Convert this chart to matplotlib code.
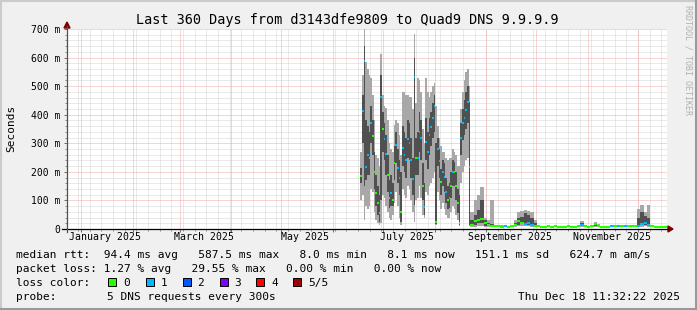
import numpy as np
import matplotlib
matplotlib.use('Agg')
import matplotlib.pyplot as plt
from matplotlib.patches import Rectangle, Polygon
from matplotlib.lines import Line2D
import datetime as dt

# ---------------- data ----------------
START = dt.datetime(2024, 12, 23, 11, 32, 22)
END = dt.datetime(2025, 12, 18, 11, 32, 22)
SPAN = 360.0

# day offsets (days since START), median rtt (ms), loss count, smoke percentiles (ms)
day = [176, 177, 178, 179, 180, 181, 182, 183, 184, 185, 186, 187, 188, 189, 190,
       191, 192, 193, 194, 195, 196, 197, 198, 199, 200, 201, 202, 203, 204, 205,
       206, 207, 208, 209, 210, 211, 212, 213, 214, 215, 216, 217, 218, 219, 220,
       221, 222, 223, 224, 225, 226, 227, 228, 229, 230, 231, 232, 233, 234, 235,
       236, 237, 238, 239, 240, 241,
       242, 244, 246, 248, 250, 252, 254, 256, 258, 260, 262, 264, 266, 268, 270,
       272, 274, 276, 278, 280, 282, 284, 286, 288, 290, 292, 294, 296, 298, 300,
       302, 304, 306, 308, 310, 312, 314, 316, 318, 320, 322, 324, 326, 328, 330,
       332, 334, 336, 338, 340, 342, 344, 346, 348, 350, 352, 354, 356, 358]
median = [185, 413, 588, 217, 259, 250, 371, 325, 200, 126, 90, 56, 462, 350, 315,
          262, 189, 108, 126, 101, 231, 294, 214, 180, 60, 283, 260, 241, 315, 300,
          240, 175, 532, 248, 248, 340, 318, 150, 77, 306, 270, 329, 357, 390, 430,
          24, 280, 238, 164, 200, 182, 130, 101, 110, 150, 200, 200, 150, 91, 21,
          318, 371, 390, 416, 445, 217,
          14, 28, 30, 35, 20, 14, 12, 10, 9, 8, 9, 8, 9, 14, 28,
          22, 18, 20, 14, 10, 9, 8, 8, 9, 8, 9, 8, 8, 8, 9,
          8, 8, 9, 14, 9, 8, 9, 18, 12, 8, 8, 8, 9, 9, 10,
          9, 10, 9, 9, 10, 12, 18, 20, 14, 9, 8, 8, 8, 8]
loss = [0, 1, 1, 1, 1, 0, 1, 0, 0, 0, 0, 0, 1, 0, 1,
        1, 0, 0, 1, 0, 0, 1, 1, 1, 0, 1, 1, 1, 1, 1,
        1, 1, 1, 0, 1, 1, 1, 0, 1, 1, 1, 1, 1, 1, 1,
        0, 1, 1, 0, 1, 1, 1, 0, 1, 0, 1, 0, 0, 0, 0,
        1, 1, 1, 1, 1, 1,
        0, 0, 0, 0, 0, 0, 0, 0, 0, 0, 1, 0, 0, 0, 0,
        0, 1, 1, 1, 0, 0, 0, 0, 0, 0, 0, 0, 0, 0, 0,
        0, 0, 0, 1, 0, 0, 0, 0, 0, 0, 0, 0, 1, 0, 1,
        0, 1, 0, 0, 0, 1, 1, 1, 1, 0, 0, 0, 0, 0]
ping_lo = [100, 120, 30, 80, 70, 80, 140, 130, 60, 30, 20, 14, 20, 120, 110,
           80, 60, 40, 30, 50, 90, 130, 80, 40, 14, 140, 120, 110, 150, 140,
           100, 60, 24, 100, 110, 150, 110, 50, 38, 130, 120, 150, 160, 180, 200,
           14, 130, 100, 70, 90, 70, 50, 40, 40, 60, 80, 70, 50, 30, 10,
           160, 200, 220, 240, 250, 10,
           6, 8, 10, 10, 8, 8, 8, 7, 7, 7, 7, 7, 7, 8, 10,
           10, 10, 10, 8, 8, 7, 7, 7, 7, 7, 7, 7, 7, 7, 7,
           7, 7, 7, 8, 7, 7, 7, 8, 8, 7, 7, 7, 7, 7, 7,
           7, 7, 7, 7, 7, 8, 8, 9, 8, 7, 7, 7, 7, 7]
ping_q1 = [160, 300, 150, 170, 190, 190, 300, 260, 140, 80, 50, 25, 100, 270, 240,
           190, 130, 75, 80, 80, 170, 230, 160, 120, 25, 220, 200, 180, 250, 240,
           180, 120, 84, 190, 190, 270, 240, 100, 50, 240, 210, 260, 290, 320, 340,
           18, 220, 180, 120, 150, 130, 90, 70, 75, 110, 150, 150, 100, 55, 14,
           260, 310, 330, 350, 370, 14,
           10, 15, 20, 20, 12, 10, 10, 9, 8, 8, 8, 8, 8, 10, 15,
           18, 15, 15, 12, 9, 8, 8, 8, 8, 8, 8, 8, 8, 8, 8,
           8, 8, 8, 10, 8, 8, 8, 12, 10, 8, 8, 8, 8, 8, 8,
           8, 8, 8, 8, 8, 10, 14, 14, 10, 8, 8, 8, 8, 8]
ping_q3 = [215, 470, 640, 380, 360, 340, 430, 380, 270, 190, 150, 120, 540, 410, 370,
           330, 260, 170, 190, 160, 290, 340, 280, 240, 200, 360, 340, 320, 380, 370,
           320, 250, 600, 320, 340, 410, 380, 230, 160, 390, 340, 390, 410, 440, 470,
           300, 320, 280, 210, 240, 230, 180, 150, 160, 200, 240, 235, 200, 140, 120,
           370, 420, 450, 480, 500, 445,
           30, 50, 66, 101, 30, 20, 16, 12, 11, 10, 11, 10, 11, 20, 40,
           42, 55, 50, 40, 20, 11, 10, 10, 11, 10, 11, 10, 10, 10, 11,
           10, 10, 11, 22, 11, 10, 11, 22, 15, 10, 10, 10, 11, 11, 12,
           11, 12, 11, 11, 12, 40, 58, 45, 40, 11, 10, 10, 10, 10]
ping_hi = [270, 540, 700, 584, 560, 540, 528, 470, 380, 260, 250, 220, 612, 469, 430,
           423, 380, 300, 280, 270, 364, 380, 370, 330, 260, 479, 480, 470, 470, 462,
           462, 420, 683, 440, 528, 520, 480, 350, 300, 528, 480, 462, 480, 500, 511,
           430, 360, 318, 290, 270, 270, 250, 240, 249, 249, 280, 270, 260, 220, 220,
           420, 480, 520, 550, 560, 500,
           60, 100, 119, 147, 40, 30, 101, 15, 14, 13, 14, 12, 13, 30, 60,
           62, 66, 64, 60, 30, 13, 12, 12, 13, 12, 13, 12, 12, 12, 13,
           12, 12, 13, 28, 13, 12, 13, 25, 18, 12, 12, 12, 13, 13, 14,
           13, 14, 13, 13, 14, 70, 84, 60, 84, 13, 12, 12, 12, 12]

loss_colors = ['#26ff00', '#00b8ff', '#0059ff', '#7e00ff', '#ff0000', '#a10000']
loss_labels = ['0', '1', '2', '3', '4', '5/5']

title = 'Last 360 Days from d3143dfe9809 to Quad9 DNS 9.9.9.9'
ylabel = 'Seconds'
ytick_vals = [0, 100, 200, 300, 400, 500, 600, 700]
ytick_labels = ['0', '100 m', '200 m', '300 m', '400 m', '500 m', '600 m', '700 m']
month_label_months = [(2025, 1, 'January 2025'), (2025, 3, 'March 2025'), (2025, 5, 'May 2025'),
                      (2025, 7, 'July 2025'), (2025, 9, 'September 2025'), (2025, 11, 'November 2025')]
legend_rtt = 'median rtt:  94.4 ms avg   587.5 ms max   8.0 ms min   8.1 ms now   151.1 ms sd   624.7 m am/s'
legend_loss = 'packet loss: 1.27 % avg   29.55 % max   0.00 % min   0.00 % now'
legend_probe = ('probe:', '5 DNS requests every 300s')
date_text = 'Thu Dec 18 11:32:22 2025'
watermark = 'RRDTOOL / TOBI OETIKER'

# ---------------- figure ----------------
W, H = 697, 310
FONT = 'DejaVu Sans Mono'
plt.rcParams['font.family'] = [FONT, 'DejaVu Sans']

fig = plt.figure(figsize=(W / 100, H / 100), dpi=100, facecolor='#f0f0f0')


def fx(px):
    return px / W


def fy(py):
    return 1 - py / H


L, R, T, B = 67, 667, 29, 229
ax = fig.add_axes([fx(L), fy(B), (R - L) / W, (B - T) / H])
ax.set_facecolor('white')
ax.set_xlim(0, SPAN)
ax.set_ylim(0, 700)
for s in ax.spines.values():
    s.set_visible(False)


def to_day(d):
    return (d - START).total_seconds() / 86400.0


# grid
dot = (0, (1, 1))
minor_col = '#d4d4d4'
major_col = '#f2a8a8'
for v in range(20, 701, 20):
    if v % 100:
        ax.axhline(v, color=minor_col, lw=0.72, ls=dot, zorder=0.5)
wk = dt.datetime(2024, 12, 30)
week_days = []
while wk < END:
    week_days.append(to_day(wk))
    wk += dt.timedelta(days=7)
for d in week_days:
    ax.axvline(d, color=minor_col, lw=0.72, ls=dot, zorder=0.5)
month_days = []
for m in range(1, 13):
    month_days.append(to_day(dt.datetime(2025, m, 1)))
for v in range(100, 701, 100):
    ax.axhline(v, color=major_col, lw=0.72, ls=dot, zorder=0.6)
for d in month_days:
    ax.axvline(d, color=major_col, lw=0.72, ls=dot, zorder=0.6)

# smoke
day_a = np.array(day, dtype=float)
width = np.diff(np.append(day_a, SPAN))
lo = np.array(ping_lo, float)
q1 = np.array(ping_q1, float)
q3 = np.array(ping_q3, float)
hi = np.array(ping_hi, float)
ax.bar(day_a, hi - lo, bottom=lo, width=width, align='edge', color='#a8a8a8', linewidth=0, zorder=2)
ax.bar(day_a, q3 - q1, bottom=q1, width=width, align='edge', color='#505050', linewidth=0, zorder=3)
# median colored by loss
ax.hlines(median, day_a, day_a + width, colors=[loss_colors[l] for l in loss], lw=1.5, zorder=4)

# ticks
ax.set_yticks(ytick_vals)
ax.set_yticklabels(ytick_labels, fontsize=7.05)
ax.set_yticks(range(0, 701, 20), minor=True)
ax.tick_params(axis='y', which='major', length=2.5, width=0.72, color='#707070', pad=2.6, direction='out')
ax.tick_params(axis='y', which='minor', length=1.6, width=0.72, color='#909090', direction='out')
ax.set_xticks(month_days)
ax.set_xticks(week_days, minor=True)
ax.tick_params(axis='x', which='major', length=2.5, width=0.72, color='#707070', labelbottom=False)
ax.tick_params(axis='x', which='minor', length=1.6, width=0.72, color='#909090')

xt = ax.get_xaxis_transform()
for (yy, mm, lab) in month_label_months:
    ax.text(to_day(dt.datetime(yy, mm, 15, 12)), -(240.5 - B) / (B - T), lab,
            transform=xt, ha='center', va='baseline', fontsize=7.1)

# axes lines and arrows
fig.add_artist(Line2D([fx(62), fx(669)], [fy(B), fy(B)], color='black', lw=0.9))
fig.add_artist(Line2D([fx(L), fx(L)], [fy(B + 3), fy(26)], color='#505050', lw=0.9))
arrow_col = '#7f0000'
fig.add_artist(Polygon([[fx(668), fy(B - 3)], [fx(668), fy(B + 3)], [fx(673), fy(B)]],
                       closed=True, color=arrow_col, transform=fig.transFigure))
fig.add_artist(Polygon([[fx(L - 3), fy(28)], [fx(L + 3), fy(28)], [fx(L), fy(22)]],
                       closed=True, color=arrow_col, transform=fig.transFigure))

# texts
fig.text(fx(347.5), fy(24), title, ha='center', va='baseline', fontsize=9.75)
fig.text(fx(11), fy(128), ylabel, rotation=90, ha='center', va='center', fontsize=8)
fig.text(fx(688), fy(5), watermark, rotation=270, ha='center', va='top', fontsize=6, color='#b0b0b0')

LEG = 8.05
fig.text(fx(16), fy(257.5), legend_rtt, ha='left', va='baseline', fontsize=LEG)
fig.text(fx(16), fy(271.6), legend_loss, ha='left', va='baseline', fontsize=LEG)
fig.text(fx(16), fy(285.7), 'loss color:', ha='left', va='baseline', fontsize=LEG)
box_x = [108, 145.5, 182.5, 219.5, 256, 293]
for bx, col, lab in zip(box_x, loss_colors, loss_labels):
    fig.add_artist(Rectangle((fx(bx), fy(286)), 8 / W, 8 / H, facecolor=col,
                             edgecolor='black', lw=0.7, transform=fig.transFigure))
    fig.text(fx(bx + 15), fy(285.7), lab, ha='left', va='baseline', fontsize=LEG)
fig.text(fx(16), fy(299.7), legend_probe[0], ha='left', va='baseline', fontsize=LEG)
fig.text(fx(107), fy(299.7), legend_probe[1], ha='left', va='baseline', fontsize=LEG)
fig.text(fx(680), fy(299.7), date_text, ha='right', va='baseline', fontsize=LEG)

# 3D frame
fig.add_artist(Line2D([0, 1], [fy(0.5), fy(0.5)], color='#cbcbcb', lw=1.5))
fig.add_artist(Line2D([fx(0.5), fx(0.5)], [0, 1], color='#cbcbcb', lw=1.5))
fig.add_artist(Line2D([0, 1], [fy(309.3), fy(309.3)], color='#999999', lw=1.5))
fig.add_artist(Line2D([fx(696.3), fx(696.3)], [0, 1], color='#999999', lw=1.5))

fig.savefig('out.png', dpi=100, facecolor=fig.get_facecolor())
